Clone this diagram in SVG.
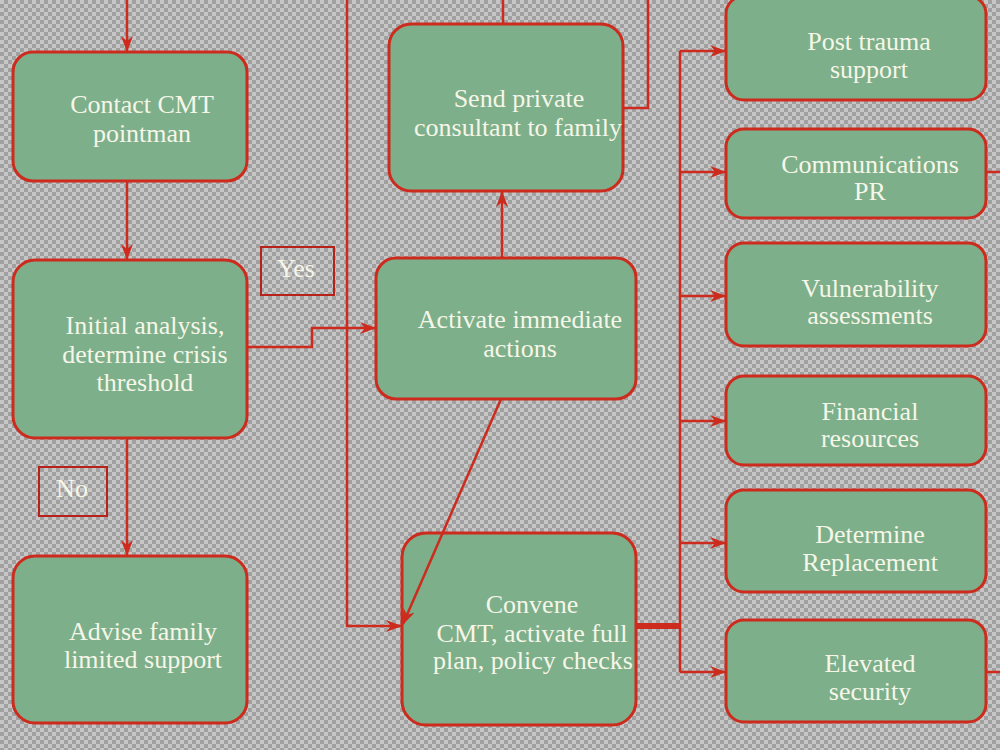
<svg xmlns="http://www.w3.org/2000/svg" width="1000" height="750" viewBox="0 0 1000 750">
<defs>
<pattern id="bg" width="8" height="8" patternUnits="userSpaceOnUse">
<rect width="8" height="8" fill="#a0a0a0"/>
<rect x="0" y="0" width="4" height="4" fill="#c6c6c6"/>
<rect x="4" y="4" width="4" height="4" fill="#c6c6c6"/>
</pattern>
<marker id="arr" viewBox="0 0 16 12" refX="15" refY="6" markerWidth="16" markerHeight="12" markerUnits="userSpaceOnUse" orient="auto">
<path d="M0,0 L16,6 L0,12 L5,6 Z" fill="#cc2b1d"/>
</marker>
<style>
.n{fill:#7daf8a;stroke:#cc2b1d;stroke-width:3}
.t{font-family:'Liberation Serif','Times New Roman',serif;font-size:26px;fill:#f6f6e8;text-anchor:middle}
.c{fill:none;stroke:#cc2b1d;stroke-width:2.5}
.a{marker-end:url(#arr)}
.lb{fill:none;stroke:#b8201a;stroke-width:2}
</style>
</defs>
<rect width="1000" height="750" fill="url(#bg)"/>

<g id="label-yes">
<rect class="lb" x="261" y="247" width="73" height="48"/>
<text class="t" x="296" y="277">Yes</text>
</g>
<g id="label-no">
<rect class="lb" x="39" y="467" width="68" height="49"/>
<text class="t" x="72" y="497">No</text>
</g>

<g id="contact">
<rect class="n" x="13" y="52" width="234" height="129" rx="20"/>
<text class="t" x="142" y="113">Contact CMT</text>
<text class="t" x="142" y="142">pointman</text>
</g>
<g id="initial">
<rect class="n" x="13" y="260" width="234" height="178" rx="22"/>
<text class="t" x="145" y="334">Initial analysis,</text>
<text class="t" x="145" y="363">determine crisis</text>
<text class="t" x="145" y="391">threshold</text>
</g>
<g id="advise">
<rect class="n" x="13" y="556" width="234" height="167" rx="22"/>
<text class="t" x="143" y="640">Advise family</text>
<text class="t" x="143" y="668">limited support</text>
</g>
<g id="send">
<rect class="n" x="389" y="24" width="234" height="167" rx="22"/>
<text class="t" x="519" y="107">Send private</text>
<text class="t" x="518" y="136">consultant to family</text>
</g>
<g id="activate">
<rect class="n" x="376" y="258" width="260" height="141" rx="20"/>
<text class="t" x="520" y="328">Activate immediate</text>
<text class="t" x="520" y="357">actions</text>
</g>
<g id="convene">
<rect class="n" x="402" y="533" width="234" height="192" rx="24"/>
<text class="t" x="532" y="613">Convene</text>
<text class="t" x="532" y="642">CMT, activate full</text>
<text class="t" x="533" y="669">plan, policy checks</text>
</g>
<g id="post-trauma">
<rect class="n" x="726" y="-4" width="260" height="104" rx="18"/>
<text class="t" x="869" y="50">Post trauma</text>
<text class="t" x="869" y="78">support</text>
</g>
<g id="communications">
<rect class="n" x="726" y="129" width="260" height="89" rx="18"/>
<text class="t" x="870" y="173">Communications</text>
<text class="t" x="870" y="200">PR</text>
</g>
<g id="vulnerability">
<rect class="n" x="726" y="243" width="260" height="103" rx="18"/>
<text class="t" x="870" y="297">Vulnerability</text>
<text class="t" x="870" y="324">assessments</text>
</g>
<g id="financial">
<rect class="n" x="726" y="376" width="260" height="89" rx="18"/>
<text class="t" x="870" y="420">Financial</text>
<text class="t" x="870" y="447">resources</text>
</g>
<g id="replacement">
<rect class="n" x="726" y="490" width="260" height="102" rx="18"/>
<text class="t" x="870" y="543">Determine</text>
<text class="t" x="870" y="571">Replacement</text>
</g>
<g id="security">
<rect class="n" x="726" y="620" width="260" height="102" rx="18"/>
<text class="t" x="870" y="672">Elevated</text>
<text class="t" x="870" y="700">security</text>
</g>

<g id="connectors">
<path class="c a" d="M127,0 V51"/>
<path class="c a" d="M127,181 V259"/>
<path class="c a" d="M127,438 V555"/>
<path class="c a" d="M247,347 H312 V328 H375"/>
<path class="c a" d="M347,0 V626 H401"/>
<path class="c a" d="M501,399 L403,624"/>
<path class="c a" d="M502,258 V192"/>
<path class="c" d="M503,0 V24"/>
<path class="c" d="M623,108 H648 V0"/>
<path d="M636,626 H680" stroke="#cc2b1d" stroke-width="6" fill="none"/>
<path class="c" d="M680,51 V672"/>
<path class="c a" d="M680,51 H725"/>
<path class="c a" d="M680,172 H725"/>
<path class="c a" d="M680,296 H725"/>
<path class="c a" d="M680,421 H725"/>
<path class="c a" d="M680,543 H725"/>
<path class="c a" d="M680,672 H725"/>
<path class="c" d="M986,172 H1000"/>
<path class="c" d="M986,672 H1000"/>
</g>
</svg>
